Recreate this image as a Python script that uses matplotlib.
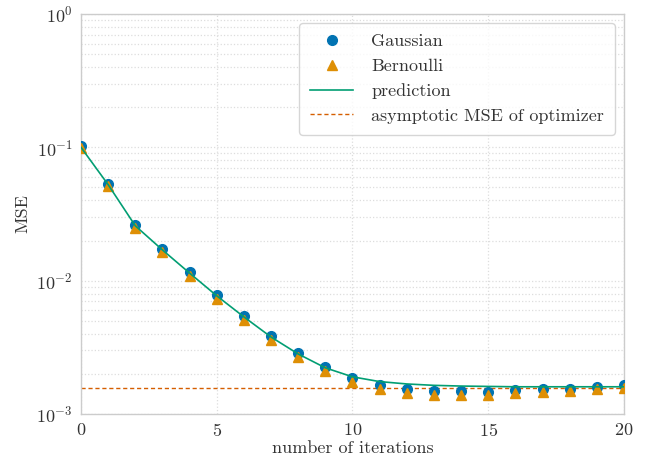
import numpy as np
import matplotlib
matplotlib.use("Agg")
import matplotlib.pyplot as plt

# values
iterations = np.arange(0, 21)
mse_gaussian = [0.102, 0.0531, 0.0261, 0.0173, 0.0116, 0.0078, 0.00543, 0.00384, 0.00287,
                0.00225, 0.00187, 0.00165, 0.00155, 0.00149, 0.00148, 0.00147, 0.00151,
                0.00154, 0.00155, 0.00160, 0.00164]
mse_bernoulli = [0.099, 0.0510, 0.0250, 0.0163, 0.0109, 0.0073, 0.00505, 0.00358, 0.00268,
                 0.00211, 0.00174, 0.00153, 0.00144, 0.00140, 0.00140, 0.00140, 0.00144,
                 0.00147, 0.00149, 0.00153, 0.00157]
mse_prediction = [0.100, 0.0525, 0.0258, 0.0170, 0.0114, 0.0077, 0.00535, 0.00378, 0.00282,
                  0.00222, 0.00190, 0.00175, 0.00168, 0.00164, 0.00162, 0.00161, 0.00160,
                  0.00160, 0.00160, 0.00160, 0.00160]
mse_asymptotic = 0.00158

plt.rcParams['font.family'] = 'serif'
plt.rcParams['font.serif'] = ['cmr10']
plt.rcParams['mathtext.fontset'] = 'cm'
plt.rcParams['axes.formatter.use_mathtext'] = True
plt.rcParams['axes.unicode_minus'] = False

BLUE = "#0173b2"
ORANGE = "#de8f05"
GREEN = "#029e73"
RED = "#d55e00"
TEXT = "#333333"

fig = plt.figure(figsize=(6.52, 4.66), dpi=100)
ax = fig.add_axes([0.1242, 0.1116, 0.8328, 0.8584])

ax.plot(iterations, mse_gaussian, 'o', color=BLUE, markersize=7, label='Gaussian', zorder=3)
ax.plot(iterations, mse_bernoulli, '^', color=ORANGE, markersize=7, label='Bernoulli', zorder=4)
ax.plot(iterations, mse_prediction, '-', color=GREEN, linewidth=1.2, label='prediction', zorder=5)
ax.axhline(mse_asymptotic, color=RED, linestyle='--', linewidth=1.0, dashes=(3, 2),
           label='asymptotic MSE of optimizer', zorder=2)

ax.set_yscale('log')
ax.set_xlim(0, 20)
ax.set_ylim(1e-3, 1e0)
ax.set_xticks([0, 5, 10, 15, 20])

ax.grid(True, which='major', color='#dddddd', linestyle=':', linewidth=0.9)
ax.grid(True, which='minor', axis='y', color='#dddddd', linestyle=':', linewidth=0.9)
ax.tick_params(which='both', length=0, labelsize=13, colors=TEXT, pad=6)
for s in ax.spines.values():
    s.set_color('#cccccc')
    s.set_linewidth(1.0)

ax.set_xlabel('number of iterations', fontsize=13, color=TEXT, labelpad=1)
ax.set_ylabel('MSE', fontsize=13, color=TEXT, labelpad=4)

leg = ax.legend(loc='upper right', fontsize=13, frameon=True, fancybox=True,
                borderpad=0.6, labelspacing=0.5, handlelength=2.4, handletextpad=1.0)
leg.get_frame().set_edgecolor('#cccccc')
for t in leg.get_texts():
    t.set_color(TEXT)

fig.savefig('out.png', dpi=100)
